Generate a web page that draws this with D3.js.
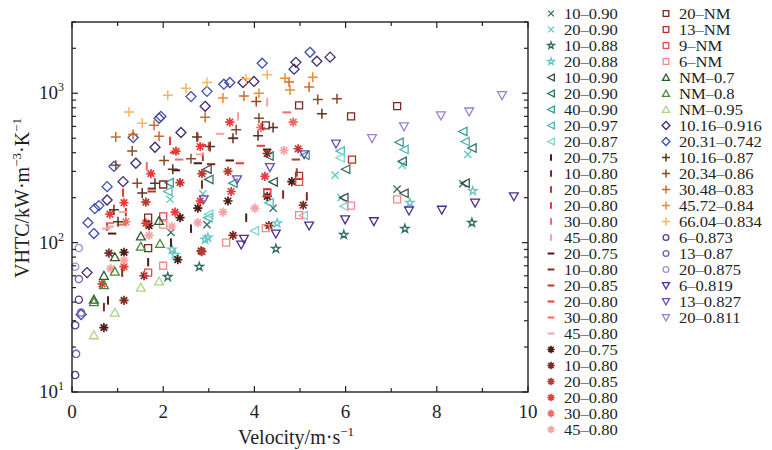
<!DOCTYPE html>
<html><head><meta charset="utf-8">
<script src="https://cdn.jsdelivr.net/npm/d3@7"></script>
<style>body{margin:0;background:#fff}svg{display:block}</style>
</head><body><div id="chart"></div>
<script>
// ---------- DATA ----------
const xTicks = [0, 2, 4, 6, 8, 10];
const yTicks = [10, 100, 1000];
const yTickExp = ["1", "2", "3"];

// cross markers
const cross10_090 = [[2.17,117],[2.96,132],[4.41,170],[7.13,228],[8.57,248]];
const cross20_090 = [[2.15,195],[2.87,212],[5.77,283],[5.9,200],[7.24,330],[8.68,390]];
// stars
const star10_088 = [[2.1,59],[2.79,69],[4.47,91],[5.96,113],[7.3,124],[8.77,136]];
const star20_088 = [[2.19,90],[2.26,83],[2.92,105],[2.98,108],[4.5,135],[7.41,185],[8.79,222]];
// left triangles
const tri10_090 = [[2.96,310],[4.41,255],[5.96,200],[7.28,214],[8.62,250]];
const tri20_090 = [[3.0,265],[4.32,380],[6.0,310],[7.24,350],[8.77,430]];
const tri40_090 = [[2.13,252],[3.53,250],[5.11,385],[7.17,470],[8.57,555]];
const tri20_097 = [[2.1,220],[2.98,147],[4.32,185],[5.88,410],[7.28,420],[8.62,475]];
const tri20_087 = [[3.0,155],[4.0,120],[5.07,152],[5.96,175],[5.88,370]];
// vertical bars
const vb20_075 = [[0.79,41],[1.67,74],[2.17,100],[2.61,124],[3.82,147]];
const vb10_080 = [[0.7,37],[1.1,63],[2.85,245],[4.63,210],[5.15,204]];
const vb20_085 = [[0.77,128],[1.18,160],[2.87,375],[4.93,295]];
const vb20_080 = [[1.12,216],[2.15,480],[3.0,440]];
const vb30_080 = [[1.64,324],[2.76,510]];
const vb45_080 = [[3.64,700],[4.28,870]];
// horizontal bars
const hb20_075 = [[0.88,115],[2.28,305],[2.76,340],[3.46,355],[4.28,420]];
const hb10_080 = [[1.75,230],[3.05,335]];
const hb20_085 = [[1.75,220],[4.91,360]];
const hb20_080 = [[2.24,400],[2.85,450],[3.55,500],[3.68,340],[4.14,445]];
const hb30_080 = [[0.83,135],[1.07,132],[2.35,360],[4.71,745]];
const hb45_080 = [[0.75,124],[0.83,128],[1.12,160],[2.81,390],[3.25,535]];
// asterisks
const as20_075 = [[0.7,27],[1.14,86],[1.69,130],[2.32,77],[2.37,147],[2.76,170],[3.42,190],[4.28,204],[4.82,256]];
const as10_080 = [[0.81,85],[1.14,41],[1.58,60],[2.83,88],[3.53,112],[4.32,130],[5.07,178],[4.28,395]];
const as20_085 = [[1.62,187],[2.37,252],[2.85,290],[2.85,87],[3.42,300],[4.96,425]];
const as20_080 = [[0.66,53],[0.83,155],[1.14,69],[1.14,185],[1.62,135],[1.73,290],[2.26,160],[2.28,410],[2.81,190],[2.81,440],[3.46,640],[3.49,220],[4.23,278]];
const as30_080 = [[1.18,138],[4.14,590],[4.85,640]];
const as45_080 = [[0.85,67],[1.14,76],[1.69,112],[2.19,128],[2.76,136],[3.31,160],[4.01,170],[4.65,415]];
// squares
const sq20_NM = [[1.67,92],[1.67,147],[2.0,245],[4.25,610],[4.98,830],[6.12,700],[7.13,820]];
const sq13_NM = [[4.28,215],[4.98,280],[6.14,360]];
const sq9_NM = [[1.67,63],[2.0,150],[4.28,218],[4.98,255]];
const sq6_NM = [[2.0,70],[2.0,132],[3.38,100],[4.25,125],[4.98,153],[6.12,177],[7.13,195]];
// up triangles
const tuNM_07 = [[0.48,41.5],[0.7,60],[0.94,80],[1.51,110],[1.91,140]];
const tuNM_08 = [[0.48,40],[0.7,52],[0.94,64],[1.51,94],[1.93,98]];
const tuNM_095 = [[0.48,24],[0.94,34],[1.51,50],[1.91,55]];
// diamonds
const dm10_916 = [[0.33,63],[0.77,193],[1.12,256],[1.4,340],[1.82,435],[2.39,546],[2.92,818],[3.75,1180],[3.99,1200],[4.87,1450],[4.91,1610],[5.37,1640],[5.66,1745]];
const dm20_742 = [[0.2,33],[0.35,136],[0.48,115],[0.5,169],[0.59,177],[0.77,237],[0.92,324],[1.34,505],[1.91,680],[1.95,700],[2.61,950],[2.96,1030],[3.33,1150],[3.46,1180],[4.17,1590],[5.22,1880]];
// plus
const pl10_87 = [[0.92,166],[1.01,138],[1.54,215],[1.82,250],[2.21,310],[2.74,510],[3.03,440],[3.53,500],[4.08,520],[4.41,590],[5.48,730]];
const pl20_86 = [[0.96,330],[1.32,410],[1.43,250],[2.02,355],[2.61,365],[3.6,570],[4.04,880],[4.1,680],[5.39,910],[5.81,920]];
const pl30_83 = [[0.96,510],[1.34,530],[1.8,610],[1.91,515],[2.92,690],[3.77,960],[4.76,1190],[5.2,1100]];
const pl45_84 = [[3.31,930],[4.1,1000],[4.67,1260],[4.78,1050],[5.28,1280]];
const pl66_834 = [[1.25,750],[1.54,630],[2.1,970],[2.5,1080],[2.96,1180],[3.82,1250],[4.28,1330]];
// circles
const ci6_873 = [[0.07,13],[0.07,28],[0.15,41.5]];
const ci13_87 = [[0.09,18],[0.2,34],[0.15,57]];
const ci20_875 = [[0.07,69],[0.15,92]];
// down triangles
const td6_819 = [[3.71,97],[3.77,106],[4.47,115],[5.2,130],[5.99,143],[6.62,139],[7.39,164],[8.11,166],[8.84,185],[9.69,204]];
const td13_827 = [[2.89,195],[3.62,265],[4.34,320],[5.09,390],[5.79,460]];
const td20_811 = [[6.58,500],[7.28,600],[8.09,710],[8.71,755],[9.43,970]];

const seriesData = [cross10_090,cross20_090,star10_088,star20_088,tri10_090,tri20_090,tri40_090,tri20_097,tri20_087,
  vb20_075,vb10_080,vb20_085,vb20_080,vb30_080,vb45_080,hb20_075,hb10_080,hb20_085,hb20_080,hb30_080,hb45_080,
  as20_075,as10_080,as20_085,as20_080,as30_080,as45_080,sq20_NM,sq13_NM,sq9_NM,sq6_NM,tuNM_07,tuNM_08,tuNM_095,
  dm10_916,dm20_742,pl10_87,pl20_86,pl30_83,pl45_84,pl66_834,ci6_873,ci13_87,ci20_875,td6_819,td13_827,td20_811];
const seriesLabels = ["10–0.90","20–0.90","10–0.88","20–0.88","10–0.90","20–0.90","40–0.90","20–0.97","20–0.87",
  "20–0.75","10–0.80","20–0.85","20–0.80","30–0.80","45–0.80","20–0.75","10–0.80","20–0.85","20–0.80","30–0.80","45–0.80",
  "20–0.75","10–0.80","20–0.85","20–0.80","30–0.80","45–0.80","20–NM","13–NM","9–NM","6–NM","NM–0.7","NM–0.8","NM–0.95",
  "10.16–0.916","20.31–0.742","10.16–0.87","20.34–0.86","30.48–0.83","45.72–0.84","66.04–0.834","6–0.873","13–0.87","20–0.875",
  "6–0.819","13–0.827","20–0.811"];
const seriesShapes = ["x","x","star","star","tl","tl","tl","tl","tl","vb","vb","vb","vb","vb","vb","hb","hb","hb","hb","hb","hb",
  "ast","ast","ast","ast","ast","ast","sq","sq","sq","sq","tu","tu","tu","dm","dm","pl","pl","pl","pl","pl","ci","ci","ci","td","td","td"];
const redShades = ["#4a1e16","#7c2a22","#b43a32","#e83a36","#f06868","#f5a3a3"];
const seriesColors = ["#2f6e66","#5fc8c4","#2f6e66","#5fc8c4","#3b524c","#2f7466","#3a9c8e","#52b8b2","#80d4d0",
  ...redShades, ...redShades, ...redShades,
  "#7a2820","#b03028","#e84a48","#f28a88","#2e5a2e","#4a8a3c","#acd484","#3e2a6e","#3c4cae",
  "#5a3424","#8c4a28","#d06a2c","#f08a30","#f9b46a","#5a3a8c","#7a5aac","#a88ad0","#4c2c8e","#6c4cae","#9c80cc"];

// ---------- CHART ----------
const W = 772, H = 450;
const m = {left: 72, right: 244, top: 22, bottom: 58};
const svg = d3.select("#chart").append("svg").attr("width", W).attr("height", H);
const x = d3.scaleLinear().domain([0, 10]).range([m.left, W - m.right]);
const y = d3.scaleLog().domain([10, 3000]).range([H - m.bottom, m.top]);
const font = "'Liberation Serif','Times New Roman',serif";

function drawMarker(g, shape, color, k) {
  const sw = 1.3;
  const add = (d, w) => g.append("path").attr("d", d).attr("fill", "none").attr("stroke", color).attr("stroke-width", w || sw);
  switch (shape) {
    case "x": { const s = 3.6*k; add(`M${-s},${-s}L${s},${s}M${-s},${s}L${s},${-s}`); break; }
    case "star": add(d3.symbol(d3.symbolStar, 22*k*k)(), 1.3); break;
    case "tl": { const s = 4.2*k; add(`M${-s},0L${s},${-s}L${s},${s}Z`); break; }
    case "vb": { const s = 4.2*k; add(`M0,${-s}L0,${s}`, 2); break; }
    case "hb": { const s = 4.2*k; add(`M${-s},0L${s},0`, 2); break; }
    case "ast": { const s = 4.6*k; let d = "";
      for (let a = 0; a < 4; a++) { const t = a*Math.PI/4; d += `M${-s*Math.cos(t)},${-s*Math.sin(t)}L${s*Math.cos(t)},${s*Math.sin(t)}`; }
      add(d, 1.7); break; }
    case "sq": { const s = 3.5*k; add(`M${-s},${-s}H${s}V${s}H${-s}Z`); break; }
    case "tu": { const s = 4.4*k; add(`M0,${-s}L${s},${s*0.8}L${-s},${s*0.8}Z`); break; }
    case "td": { const s = 4.4*k; add(`M0,${s}L${s},${-s*0.8}L${-s},${-s*0.8}Z`); break; }
    case "dm": { const s = 5*k; add(`M0,${-s}L${s},0L0,${s}L${-s},0Z`); break; }
    case "pl": { const s = 5*k; add(`M${-s},0H${s}M0,${-s}V${s}`, 1.5); break; }
    case "ci": g.append("circle").attr("r", 3.6*k).attr("fill", "none").attr("stroke", color).attr("stroke-width", sw); break;
  }
}

// points
const pts = svg.append("g").attr("class", "points");
seriesData.forEach((data, i) => {
  data.forEach(d => {
    const g = pts.append("g").attr("transform", `translate(${x(d[0])},${y(d[1])})`);
    drawMarker(g, seriesShapes[i], seriesColors[i], 1);
  });
});

// axes frame
const axG = svg.append("g").attr("stroke", "#222").attr("fill", "none");
const x0 = x(0), x1 = x(10), yb = y(10), yt = m.top;
axG.append("rect").attr("x", x0).attr("y", yt).attr("width", x1 - x0).attr("height", yb - yt).attr("stroke-width", 1.4);
d3.range(0, 11).forEach(v => {
  const L = v % 2 === 0 ? 6 : 4;
  axG.append("line").attr("x1", x(v)).attr("x2", x(v)).attr("y1", yb).attr("y2", yb - L).attr("stroke-width", 1.2);
  axG.append("line").attr("x1", x(v)).attr("x2", x(v)).attr("y1", yt).attr("y2", yt + L).attr("stroke-width", 1.2);
});
const yMinor = [];
[10, 100, 1000].forEach(dec => { for (let k = 1; k <= 9; k++) { const v = dec*k; if (v <= 3000) yMinor.push(v); } });
yMinor.forEach(v => {
  const L = yTicks.includes(v) ? 6 : 4;
  axG.append("line").attr("x1", x0).attr("x2", x0 + L).attr("y1", y(v)).attr("y2", y(v)).attr("stroke-width", 1.2);
  axG.append("line").attr("x1", x1).attr("x2", x1 - L).attr("y1", y(v)).attr("y2", y(v)).attr("stroke-width", 1.2);
});

// tick labels
xTicks.forEach(v => {
  svg.append("text").attr("x", x(v)).attr("y", yb + 26).attr("text-anchor", "middle")
    .attr("font-family", font).attr("font-size", 19).attr("fill", "#222").text(v);
});
yTicks.forEach((v, i) => {
  const t = svg.append("text").attr("x", x0 - 8).attr("y", y(v) + 6).attr("text-anchor", "end")
    .attr("font-family", font).attr("font-size", 19).attr("fill", "#222");
  t.append("tspan").text("10");
  t.append("tspan").attr("font-size", 12).attr("dy", -8).text(yTickExp[i]);
});

// axis titles
const xt = svg.append("text").attr("x", 296).attr("y", 444).attr("text-anchor", "middle")
  .attr("font-family", font).attr("font-size", 20).attr("fill", "#222");
xt.append("tspan").text("Velocity/m·s");
xt.append("tspan").attr("font-size", 13).attr("dy", -8).text("−1");

const yt2 = svg.append("text").attr("transform", `translate(29,198) rotate(-90)`).attr("text-anchor", "middle")
  .attr("font-family", font).attr("font-size", 20).attr("fill", "#222");
yt2.append("tspan").text("VHTC/kW·m");
yt2.append("tspan").attr("font-size", 13).attr("dy", -8).text("−3");
yt2.append("tspan").attr("dy", 8).text("·K");
yt2.append("tspan").attr("font-size", 13).attr("dy", -8).text("−1");

// legend
const leg = svg.append("g");
seriesLabels.forEach((lab, i) => {
  const col = i < 27 ? 0 : 1;
  const row = col === 0 ? i : i - 27;
  const mx = col === 0 ? 551 : 666;
  const ty = 13.5 + row * 16;
  const g = leg.append("g").attr("transform", `translate(${mx},${ty})`);
  drawMarker(g, seriesShapes[i], seriesColors[i], 0.8);
  const t = leg.append("text").attr("x", mx + 13).attr("y", ty + 5).attr("font-family", font).attr("font-size", 14.4)
    .attr("fill", "#222").text(lab);
  const len = t.node().getComputedTextLength();
  t.attr("textLength", len * 1.15).attr("lengthAdjust", "spacingAndGlyphs");
});
</script></body></html>
